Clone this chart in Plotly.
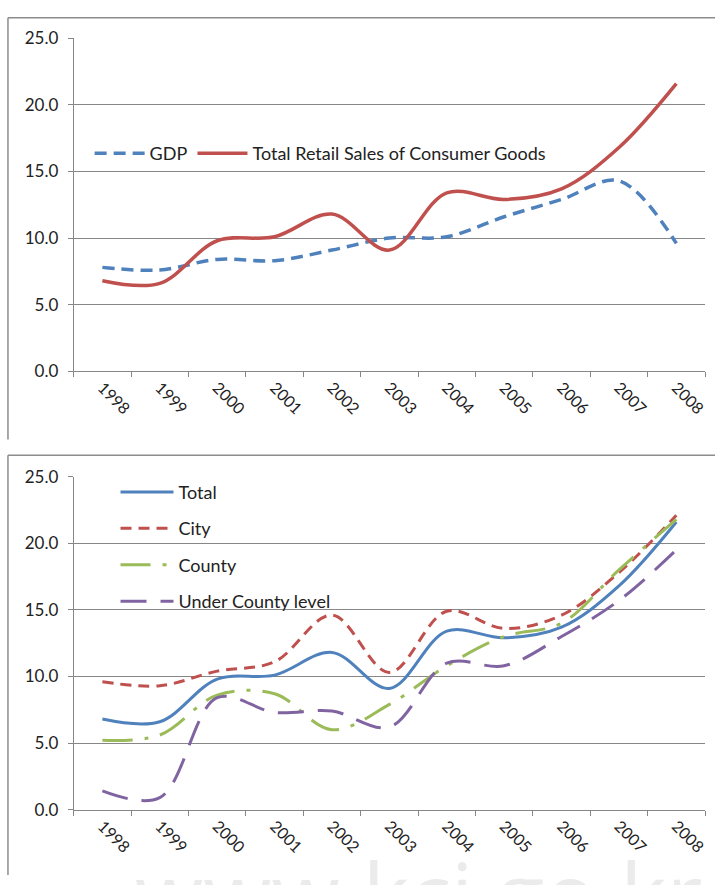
import plotly.graph_objects as go

# Growth rates (%) by year
years = ["1998", "1999", "2000", "2001", "2002", "2003",
         "2004", "2005", "2006", "2007", "2008"]

gdp = [7.8, 7.6, 8.4, 8.3, 9.1, 10.0, 10.1, 11.6, 12.9, 14.3, 9.6]
retail_total = [6.8, 6.6, 9.8, 10.1, 11.8, 9.1, 13.4, 12.9, 13.7, 16.8, 21.6]

city = [9.6, 9.3, 10.4, 11.1, 14.6, 10.3, 14.9, 13.6, 14.6, 17.8, 22.1]
county = [5.2, 5.6, 8.6, 8.7, 6.0, 7.9, 10.8, 13.0, 14.0, 18.0, 21.8]
under_county = [1.4, 0.9, 8.4, 7.3, 7.4, 6.2, 11.0, 10.8, 13.0, 15.7, 19.5]

W, H = 718, 885
FONT = "Lato"
GRID = "#878787"
TXT = "#222222"

BLUE = "#4F81BD"
RED = "#C0504D"
GREEN = "#9BBB59"
PURPLE = "#8064A2"


def px_y(p):
    return 1 - p / H


def px_x(p):
    return p / W


fig = go.Figure()

# ---- top panel: GDP vs retail sales ----
fig.add_trace(go.Scatter(
    x=years, y=gdp, name="GDP", mode="lines",
    line=dict(color=BLUE, width=3.5, dash="12px,7px", shape="spline", smoothing=1.0),
    xaxis="x", yaxis="y", legend="legend",
))
fig.add_trace(go.Scatter(
    x=years, y=retail_total, name="Total Retail Sales of Consumer Goods", mode="lines",
    line=dict(color=RED, width=3.5, shape="spline", smoothing=1.0),
    xaxis="x", yaxis="y", legend="legend",
))

# ---- bottom panel: retail sales by area ----
fig.add_trace(go.Scatter(
    x=years, y=retail_total, name="Total", mode="lines",
    line=dict(color=BLUE, width=3, shape="spline", smoothing=1.0),
    xaxis="x2", yaxis="y2", legend="legend2", legendgroup="a",
))
fig.add_trace(go.Scatter(
    x=years, y=city, name="City", mode="lines",
    line=dict(color=RED, width=3, dash="11px,7px", shape="spline", smoothing=1.0),
    xaxis="x2", yaxis="y2", legend="legend2", legendgroup="b",
))
fig.add_trace(go.Scatter(
    x=years, y=county, name="County", mode="lines",
    line=dict(color=GREEN, width=3, dash="30px,12px,4px,12px", shape="spline", smoothing=1.0),
    xaxis="x2", yaxis="y2", legend="legend2", legendgroup="c",
))
fig.add_trace(go.Scatter(
    x=years, y=under_county, name="Under County level", mode="lines",
    line=dict(color=PURPLE, width=3, dash="26px,14px", shape="spline", smoothing=1.0),
    xaxis="x2", yaxis="y2", legend="legend2", legendgroup="d",
))

x_dom = [px_x(74), px_x(708)]

xaxis_common = dict(
    type="category", range=[-0.5, 10.5], domain=x_dom,
    tickson="boundaries", ticks="outside", ticklen=5, tickcolor=GRID,
    showline=True, linecolor=GRID, linewidth=1, showgrid=False,
    tickangle=45, tickfont=dict(family=FONT, size=16, color=TXT),
    zeroline=False, fixedrange=True,
)
yaxis_common = dict(
    range=[0, 25], dtick=5, tickformat=".1f",
    ticks="outside", ticklen=5, tickcolor=GRID, ticklabelstandoff=6,
    showline=True, linecolor=GRID, linewidth=1,
    showgrid=True, gridcolor=GRID, gridwidth=1, zeroline=False,
    tickfont=dict(family=FONT, size=17, color=TXT),
    fixedrange=True,
)

fig.update_layout(
    width=W, height=H,
    margin=dict(l=0, r=0, t=0, b=0),
    paper_bgcolor="white", plot_bgcolor="white",
    font=dict(family=FONT, size=17, color=TXT),
    xaxis=dict(**xaxis_common, anchor="y"),
    yaxis=dict(**yaxis_common, domain=[px_y(369), px_y(28)], anchor="x"),
    xaxis2=dict(**xaxis_common, anchor="y2"),
    yaxis2=dict(**yaxis_common, domain=[px_y(818), px_y(477)], anchor="x2"),
    legend=dict(
        orientation="h", x=px_x(90), y=px_y(127), xanchor="left", yanchor="top",
        bgcolor="rgba(0,0,0,0)", itemwidth=50,
        font=dict(family=FONT, size=18, color=TXT),
    ),
    legend2=dict(
        orientation="v", x=px_x(116), y=px_y(474), xanchor="left", yanchor="top",
        bgcolor="rgba(0,0,0,0)", itemwidth=53, tracegroupgap=10,
        font=dict(family=FONT, size=18, color=TXT),
    ),
    showlegend=True,
)

# panel frames
frame = dict(type="line", xref="paper", yref="paper",
             line=dict(color="#8c8c8c", width=1.5))
fig.add_shape(**frame, x0=px_x(8), x1=1.0, y0=px_y(7), y1=px_y(7))
fig.add_shape(**frame, x0=px_x(8), x1=px_x(8), y0=px_y(7), y1=px_y(439))
fig.add_shape(**frame, x0=px_x(8), x1=1.0, y0=px_y(455), y1=px_y(455))
fig.add_shape(**frame, x0=px_x(8), x1=px_x(8), y0=px_y(455), y1=0.0)

# faint site watermark along the bottom edge
fig.add_annotation(
    text="www.kci.go.kr", xref="paper", yref="paper",
    x=px_x(420), y=px_y(840), xanchor="center", yanchor="top",
    showarrow=False, font=dict(family="Open Sans", size=88, color="#ebebeb"),
)

fig.write_html("out.html")
